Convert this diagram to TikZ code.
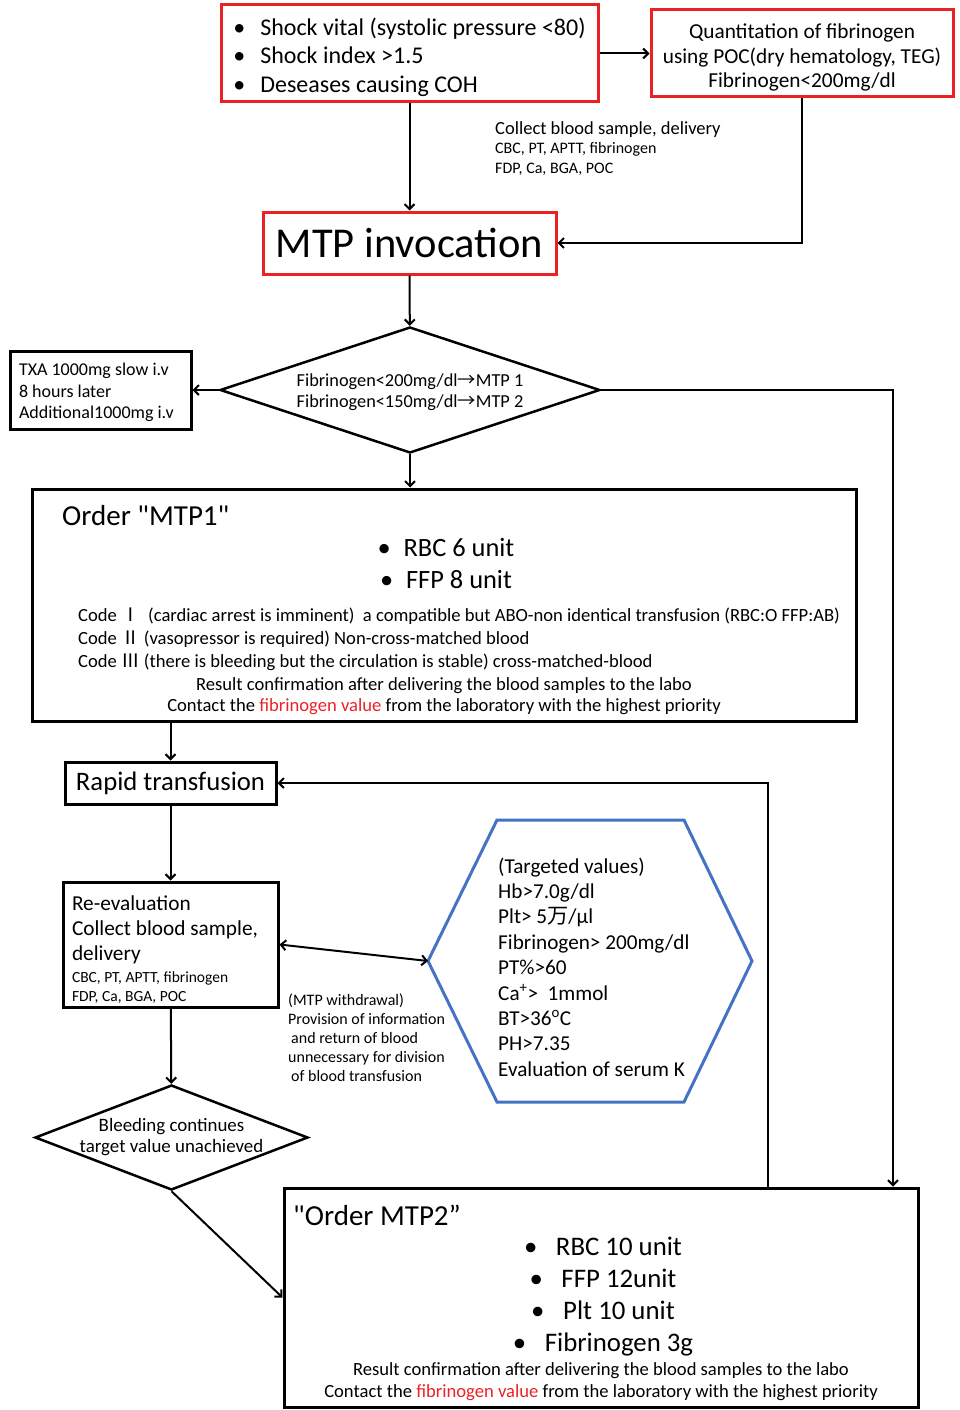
\documentclass[tikz,border=0pt]{standalone}
\usepackage{fontspec}
\setmainfont{Carlito}[Ligatures=TeXOff]
\newfontfamily\cjk{Noto Sans CJK JP}
\usepackage{tikz}
\usetikzlibrary{positioning}
\usetikzlibrary{shapes.geometric}
\usetikzlibrary{arrows.meta}
\usetikzlibrary{calc}
\definecolor{mtpred}{RGB}{234,34,38}
\definecolor{hexblue}{RGB}{68,114,196}

\newcommand{\fsz}[2]{\fontsize{#1}{#2}\selectfont}
\newcommand{\bul}[1]{\makebox[#1][l]{\textbullet}}
\newcommand{\lift}[1]{\rule{0pt}{#1}}

\begin{document}
\begin{tikzpicture}[
  x=1pt, y=-1pt,
  redbox/.style={draw=mtpred, line width=3pt, inner sep=0pt, align=center},
  box/.style={draw, line width=3pt, inner sep=0pt},
  decide/.style={draw, diamond, line width=2.5pt, inner sep=0pt},
  txt/.style={inner sep=0pt},
  arrow/.style={-{Straight Barb[length=5pt,width=10pt]}, line width=2pt},
  darrow/.style={{Straight Barb[length=5pt,width=10pt]}-{Straight Barb[length=5pt,width=10pt]}, line width=2pt}
]
\useasboundingbox (0,0) rectangle (959,1410);

% Entry criteria and POC quantitation
\node[redbox, minimum width=377pt, minimum height=97pt, align=left, font=\fsz{24}{28.5}] (shock) at (409.5,53.5)
  {\lift{25pt}\bul{27pt}Shock vital (systolic pressure <80)\\
   \bul{27pt}Shock index >1.5\\
   \bul{27pt}Deseases causing COH};
\node[redbox, minimum width=302pt, minimum height=87pt, font=\fsz{21.3}{24.5}] (fib) at (802,53.5)
  {\lift{23pt}Quantitation of fibrinogen\\using POC(dry hematology, TEG)\\Fibrinogen<200mg/dl};
\node[txt, anchor=north west, align=left, font=\fsz{16}{19.5}] (sample) at (495,121)
  {{\fsz{18.5}{19.5}Collect blood sample, delivery}\\CBC, PT, APTT, fibrinogen\\FDP, Ca, BGA, POC};

% Invocation and first decision
\node[redbox, minimum width=293pt, minimum height=62pt, font=\fsz{42.5}{44}] (inv) at (409.5,243) {MTP invocation};
\node[decide, aspect=3, minimum width=380pt, minimum height=126pt, align=center, font=\fsz{18.3}{21}] (fibdec) at (410,390)
  {\lift{18pt}Fibrinogen<200mg/dl{\cjk →}MTP 1\\Fibrinogen<150mg/dl{\cjk →}MTP 2};
\node[box, minimum width=181pt, minimum height=78pt, align=flush left, text width=163pt, font=\fsz{18}{21.5}] (txa) at (100.5,390)
  {\lift{18pt}TXA 1000mg slow i.v\\8 hours later\\Additional1000mg i.v};

% Order MTP1
\node[box, minimum width=824pt, minimum height=232pt] (mtpA) at (444,605) {};
\node[txt, anchor=west, font=\fsz{29}{30}] (mtpAtitle) at (62,516) {Order "MTP1"};
\node[txt, align=center, font=\fsz{26.4}{32}] (mtpAunits) at (446,564)
  {\bul{26pt}RBC 6 unit\\\bul{26pt}FFP 8 unit};
\node[txt, anchor=west, align=left, font=\fsz{18.6}{23}] (mtpAcode) at (78,639)
  {Code {\cjk Ⅰ}\ \ (cardiac arrest is imminent)\ \ a compatible but ABO-non identical transfusion (RBC:O FFP:AB)\\
   Code {\cjk Ⅱ}\ (vasopressor is required) Non-cross-matched blood\\
   Code {\cjk Ⅲ} (there is bleeding but the circulation is stable) cross-matched-blood};
\node[txt, align=center, font=\fsz{18.6}{21}] (mtpAnote) at (444,696)
  {Result confirmation after delivering the blood samples to the labo\\
   Contact the \textcolor{mtpred}{fibrinogen value} from the laboratory with the highest priority};

% Transfusion loop
\node[box, minimum width=211pt, minimum height=42pt, font=\fsz{26.7}{28}] (rapid) at (170.5,783) {Rapid transfusion};
\node[box, minimum width=215pt, minimum height=125pt, align=flush left, text width=197pt, font=\fsz{21.3}{25}] (reeval) at (170.5,944.5)
  {\lift{25pt}Re-evaluation\\Collect blood sample,\\delivery\\[-3pt]
   {\fsz{15.5}{19}CBC, PT, APTT, fibrinogen}\\[-6pt]
   {\fsz{15.5}{19}FDP, Ca, BGA, POC}};
\node[txt, anchor=north west, align=left, font=\fsz{16}{19}] (withdraw) at (288,994)
  {(MTP withdrawal)\\Provision of information\\\hspace{3pt}and return of blood\\
   unnecessary for division\\\hspace{3pt}of blood transfusion};

% Targeted values
\node[txt, anchor=west, align=left, font=\fsz{21.2}{25.4}] (target) at (498,967)
  {(Targeted values)\\Hb>7.0g/dl\\Plt> 5{\cjk 万}/μl\\Fibrinogen> 200mg/dl\\PT\%>60\\
   Ca\textsuperscript{+}> \ 1mmol\\BT>36\textsuperscript{o}C\\PH>7.35\\Evaluation of serum K};
\coordinate (hexL) at (428,961);
\draw[hexblue, line width=3pt, line join=miter] (hexL) -- (497,820) -- (684,820) -- (752,961)
  -- (684,1102) -- (497,1102) -- cycle;

% Second decision and Order MTP2
\node[decide, minimum width=273pt, minimum height=105pt] (bleed) at (171.5,1137.5) {};
\node[txt, align=center, font=\fsz{18.9}{21}] (bleedtxt) at (bleed) {Bleeding continues\\target value unachieved};
\node[box, minimum width=634pt, minimum height=219pt] (mtpB) at (601,1297.5) {};
\node[txt, anchor=west, font=\fsz{29}{30}] (mtpBtitle) at (293,1215) {"Order MTP2”};
\node[txt, align=center, font=\fsz{26.8}{32}] (mtpBunits) at (603,1297)
  {\bul{32pt}RBC 10 unit\\\bul{32pt}FFP 12unit\\\bul{32pt}Plt 10 unit\\\bul{32pt}Fibrinogen 3g};
\node[txt, align=center, font=\fsz{18.6}{22}] (mtpBnote) at (601,1382)
  {Result confirmation after delivering the blood samples to the labo\\
   Contact the \textcolor{mtpred}{fibrinogen value} from the laboratory with the highest priority};

% Connectors
\draw[arrow] (shock) -- (fib);
\draw[arrow] (shock) -- (inv);
\draw[arrow] (fib.south) |- (inv.east);
\draw[arrow] (inv) -- (fibdec);
\draw[arrow] (fibdec) -- (txa);
\draw[arrow] (fibdec.south) -- (fibdec.south |- mtpA.north);
\draw[arrow] (fibdec.east) -| ([xshift=292pt]mtpB.north);
\draw[arrow] (rapid |- mtpA.south) -- (rapid);
\draw[arrow] (rapid) -- (reeval);
\draw[arrow] ([xshift=167pt]mtpB.north) |- (rapid.east);
\draw[darrow] (reeval.east) -- (hexL);
\draw[arrow] (reeval) -- (bleed);
\draw[arrow] (bleed.south) -- (mtpB.west);

\end{tikzpicture}
\end{document}
